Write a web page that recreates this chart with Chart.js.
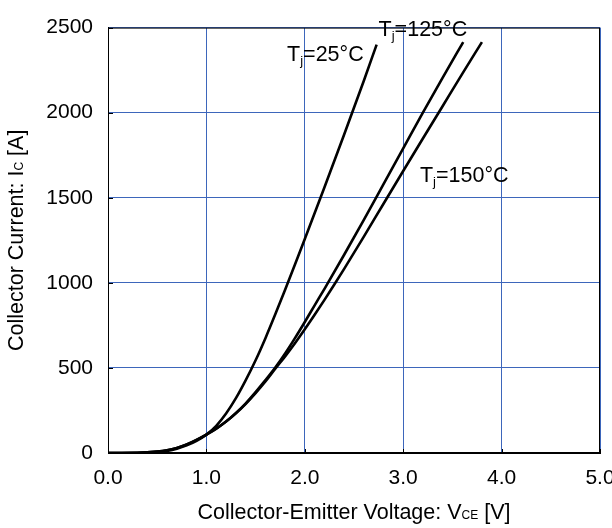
<!DOCTYPE html>
<html>
<head>
<meta charset="utf-8">
<script src="https://cdn.jsdelivr.net/npm/chart.js@4/dist/chart.umd.min.js"></script>
<style>
  html, body { margin: 0; padding: 0; background: #fff; overflow: hidden; }
  #wrap { width: 640px; height: 528px; }
</style>
</head>
<body>
<div id="wrap"><canvas id="vceChart" width="640" height="528"></canvas></div>
<script>
// Output characteristics, Ic vs Vce
const vce25 = [0, 0.3, 0.5, 0.6, 0.7, 0.8, 0.9, 1.0, 1.1, 1.2, 1.3, 1.4, 1.5, 1.6, 1.7, 1.8, 1.9, 2.0, 2.2, 2.4, 2.6, 2.73];
const ic25 = [0, 0, 5, 12, 25, 45, 72, 108, 160, 232, 322, 428, 545, 675, 815, 960, 1108, 1258, 1562, 1872, 2188, 2400];

const vce125 = [0, 0.3, 0.5, 0.6, 0.7, 0.8, 0.9, 1.0, 1.1, 1.2, 1.3, 1.4, 1.5, 1.6, 1.7, 1.8, 1.9, 2.0, 2.1, 2.2, 2.4, 2.6, 2.8, 3.0, 3.2, 3.4, 3.61];
const ic125 = [0, 1, 8, 16, 30, 50, 77, 108, 143, 185, 235, 292, 358, 428, 502, 585, 675, 770, 868, 965, 1165, 1370, 1580, 1790, 2000, 2205, 2415];

const vce150 = [0, 0.3, 0.5, 0.6, 0.7, 0.8, 0.9, 1.0, 1.1, 1.2, 1.3, 1.4, 1.5, 1.6, 1.7, 1.8, 1.9, 2.0, 2.1, 2.2, 2.3, 2.4, 2.6, 2.8, 3.0, 3.2, 3.4, 3.6, 3.8];
const ic150 = [0, 1, 8, 16, 30, 50, 77, 108, 143, 185, 233, 289, 352, 420, 495, 568, 645, 727, 812, 900, 990, 1082, 1272, 1465, 1657, 1848, 2038, 2228, 2415];

const xTicks = [0, 1, 2, 3, 4, 5];
const yTicks = [0, 500, 1000, 1500, 2000, 2500];

// curve labels: [text before sub, subscript, text after, Vce, Ic] (left edge / baseline)
const curveLabels = [
    ['T', 'j', '=25°C', 1.82, 2302],
    ['T', 'j', '=125°C', 2.75, 2448],
    ['T', 'j', '=150°C', 3.17, 1595]
];

const FONT = '"Liberation Sans", Arial, sans-serif';
const GRID_BLUE = '#3d66bb';

function toPoints(xs, ys) {
    return xs.map((x, i) => ({ x: x, y: ys[i] }));
}

function curve(label, xs, ys) {
    return {
        label: label,
        data: toPoints(xs, ys),
        borderColor: '#000',
        borderWidth: 2.6,
        pointRadius: 0,
        fill: false,
        cubicInterpolationMode: 'monotone'
    };
}

// draws text pieces where the middle one is smaller (subscript style)
function drawParts(ctx, x, y, main, sub, rest, size, subSize, subDrop) {
    ctx.font = size + 'px ' + FONT;
    ctx.fillText(main, x, y);
    x += ctx.measureText(main).width;
    ctx.font = subSize + 'px ' + FONT;
    ctx.fillText(sub, x, y + subDrop);
    x += ctx.measureText(sub).width;
    ctx.font = size + 'px ' + FONT;
    ctx.fillText(rest, x, y);
}

function partsWidth(ctx, main, sub, rest, size, subSize) {
    ctx.font = size + 'px ' + FONT;
    let w = ctx.measureText(main).width + ctx.measureText(rest).width;
    ctx.font = subSize + 'px ' + FONT;
    return w + ctx.measureText(sub).width;
}

const decorPlugin = {
    id: 'decor',
    afterDatasetsDraw(chart) {
        const ctx = chart.ctx;
        const a = chart.chartArea;
        const xs = chart.scales.x;
        const ys = chart.scales.y;
        ctx.save();

        // plot frame
        ctx.strokeStyle = '#000';
        ctx.lineWidth = 1;
        ctx.strokeRect(a.left + 0.5, a.top + 0.5, a.right - a.left - 1, a.bottom - a.top - 1);

        // short inward tick marks
        ctx.beginPath();
        xTicks.forEach(v => {
            const px = Math.round(xs.getPixelForValue(v)) + 0.5;
            ctx.moveTo(px, a.bottom);
            ctx.lineTo(px, a.bottom - 4);
        });
        yTicks.forEach(v => {
            const py = Math.round(ys.getPixelForValue(v)) + 0.5;
            ctx.moveTo(a.left, py);
            ctx.lineTo(a.left + 5, py);
        });
        ctx.stroke();

        ctx.fillStyle = '#000';
        ctx.textBaseline = 'alphabetic';
        ctx.textAlign = 'left';

        // curve labels
        curveLabels.forEach(l => {
            const px = xs.getPixelForValue(l[3]);
            const py = ys.getPixelForValue(l[4]);
            drawParts(ctx, px, py, l[0], l[1], l[2], 21.5, 13, 4);
        });

        // x axis title
        const xt = ['Collector-Emitter Voltage: V', 'CE', ' [V]'];
        const xw = partsWidth(ctx, xt[0], xt[1], xt[2], 21.5, 12);
        drawParts(ctx, (a.left + a.right) / 2 - xw / 2, 519, xt[0], xt[1], xt[2], 21.5, 12, 0);

        // y axis title
        const yt = ['Collector Current: I', 'C', ' [A]'];
        const yw = partsWidth(ctx, yt[0], yt[1], yt[2], 21.5, 12);
        ctx.translate(23, (a.top + a.bottom) / 2);
        ctx.rotate(-Math.PI / 2);
        drawParts(ctx, -yw / 2, 0, yt[0], yt[1], yt[2], 21.5, 12, 0);

        ctx.restore();
    }
};

const ctx = document.getElementById('vceChart').getContext('2d');
const vceChart = new Chart(ctx, {
    type: 'line',
    data: {
        datasets: [
            curve('Tj=25°C', vce25, ic25),
            curve('Tj=125°C', vce125, ic125),
            curve('Tj=150°C', vce150, ic150)
        ]
    },
    options: {
        responsive: false,
        animation: false,
        layout: { padding: { left: 0, top: 20, right: 40, bottom: 0 } },
        scales: {
            x: {
                type: 'linear',
                min: 0,
                max: 5,
                afterFit: s => { s.height = 75; },
                afterBuildTicks: s => { s.ticks = xTicks.map(v => ({ value: v })); },
                ticks: {
                    color: '#000',
                    padding: 13,
                    font: { family: FONT, size: 21 },
                    maxRotation: 0,
                    callback: v => v.toFixed(1)
                },
                grid: { color: GRID_BLUE, lineWidth: 1, drawTicks: false },
                border: { display: true, color: '#000', width: 1 }
            },
            y: {
                min: 0,
                max: 2500,
                afterFit: s => { s.width = 108; },
                afterBuildTicks: s => { s.ticks = yTicks.map(v => ({ value: v })); },
                ticks: {
                    color: '#000',
                    padding: 15,
                    font: { family: FONT, size: 21 },
                    callback: v => String(v)
                },
                grid: { color: GRID_BLUE, lineWidth: 1, drawTicks: false },
                border: { display: true, color: '#000', width: 1 }
            }
        },
        plugins: {
            legend: { display: false },
            tooltip: { enabled: false }
        }
    },
    plugins: [decorPlugin]
});
</script>
</body>
</html>
